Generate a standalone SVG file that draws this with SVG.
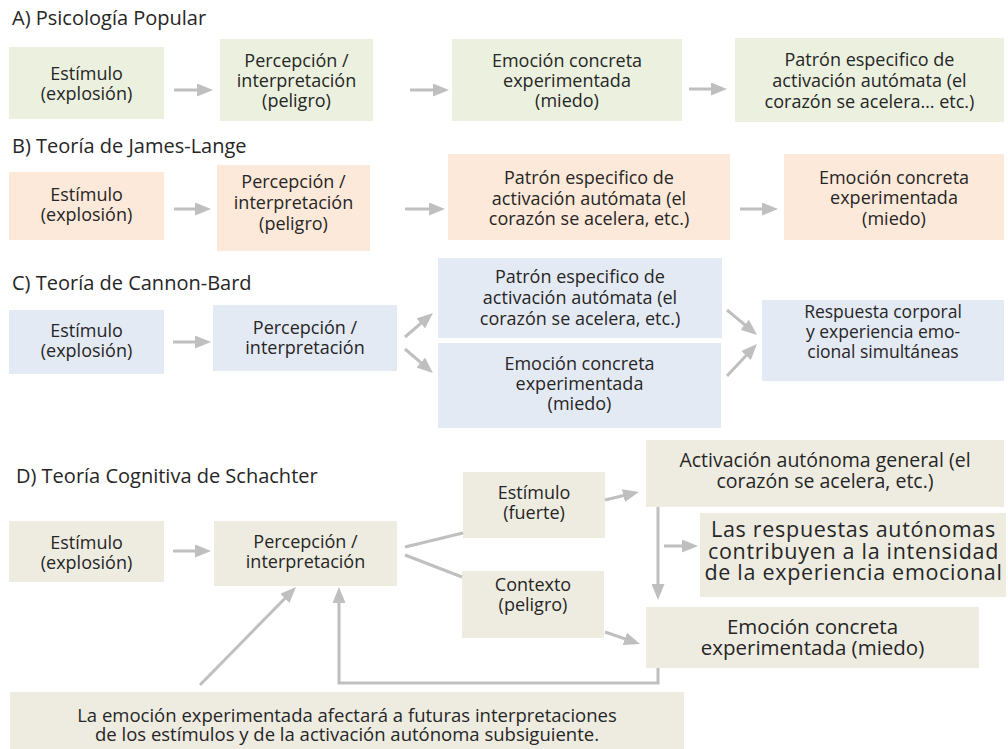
<svg xmlns="http://www.w3.org/2000/svg" width="1008" height="749" viewBox="0 0 1008 749">
  <style>
    text { font-family: "Open Sans", "Liberation Sans", sans-serif; font-weight: 400; fill: #262626; }
    .title { font-size: 20px; }
    .lbl { font-size: 18px; text-anchor: middle; }
    .sm { font-size: 17.5px; }
    .mid { font-size: 19.5px; }
    .big { font-size: 20.5px; text-anchor: middle; }
    .xl { font-size: 21.5px; letter-spacing: 0.7px; text-anchor: middle; }
    .note { font-size: 18.5px; text-anchor: middle; }
    .a { fill: #EBF1DE; }
    .b { fill: #FDE9D9; }
    .c { fill: #E4EAF4; }
    .d { fill: #EEECE1; }
    .conn { stroke: #BFBFBF; stroke-width: 3; fill: none; }
    .arr { marker-end: url(#ah); }
  </style>
  <defs>
    <marker id="ah" markerUnits="userSpaceOnUse" markerWidth="16" markerHeight="13" refX="8" refY="6.5" orient="auto">
      <path d="M0,0 L16,6.5 L0,13 z" fill="#BFBFBF"/>
    </marker>
  </defs>

  <rect width="1008" height="749" fill="#FFFFFF"/>

  <!-- Section titles -->
  <text class="title" x="12" y="25">A) Psicología Popular</text>
  <text class="title" x="12" y="153">B) Teoría de James-Lange</text>
  <text class="title" x="12" y="290">C) Teoría de Cannon-Bard</text>
  <text class="title" x="16" y="483">D) Teoría Cognitiva de Schachter</text>

  <!-- A) Folk psychology chain -->
  <g id="a1"><rect class="a" x="9" y="47" width="155" height="72"/>
    <text class="lbl" x="86.5" y="80">Estímulo</text>
    <text class="lbl" x="86.5" y="100">(explosión)</text></g>
  <g id="a2"><rect class="a" x="220" y="39" width="153" height="82"/>
    <text class="lbl" x="296.5" y="67">Percepción /</text>
    <text class="lbl" x="296.5" y="87">interpretación</text>
    <text class="lbl" x="296.5" y="107">(peligro)</text></g>
  <g id="a3"><rect class="a" x="452" y="39" width="230" height="82"/>
    <text class="lbl" x="567" y="67">Emoción concreta</text>
    <text class="lbl" x="567" y="87">experimentada</text>
    <text class="lbl" x="567" y="107">(miedo)</text></g>
  <g id="a4"><rect class="a" x="735" y="38" width="269" height="84"/>
    <text class="lbl" x="869.5" y="66">Patrón especifico de</text>
    <text class="lbl" x="869.5" y="87">activación autómata (el</text>
    <text class="lbl" x="869.5" y="108">corazón se acelera… etc.)</text></g>

  <!-- B) James-Lange chain -->
  <g id="b1"><rect class="b" x="9" y="172" width="155" height="68"/>
    <text class="lbl" x="86.5" y="201">Estímulo</text>
    <text class="lbl" x="86.5" y="221">(explosión)</text></g>
  <g id="b2"><rect class="b" x="217" y="165" width="153" height="86"/>
    <text class="lbl" x="293.5" y="188">Percepción /</text>
    <text class="lbl" x="293.5" y="209">interpretación</text>
    <text class="lbl" x="293.5" y="230">(peligro)</text></g>
  <g id="b3"><rect class="b" x="448" y="154" width="282" height="86"/>
    <text class="lbl" x="589" y="184">Patrón especifico de</text>
    <text class="lbl" x="589" y="205">activación autómata (el</text>
    <text class="lbl" x="589" y="225">corazón se acelera, etc.)</text></g>
  <g id="b4"><rect class="b" x="784" y="154" width="220" height="86"/>
    <text class="lbl" x="894" y="184">Emoción concreta</text>
    <text class="lbl" x="894" y="204">experimentada</text>
    <text class="lbl" x="894" y="225">(miedo)</text></g>

  <!-- C) Cannon-Bard branches -->
  <g id="c1"><rect class="c" x="9" y="310" width="155" height="64"/>
    <text class="lbl" x="86.5" y="337">Estímulo</text>
    <text class="lbl" x="86.5" y="357">(explosión)</text></g>
  <g id="c2"><rect class="c" x="213" y="305" width="184" height="66"/>
    <text class="lbl" x="305" y="334">Percepción /</text>
    <text class="lbl" x="305" y="354">interpretación</text></g>
  <g id="c3"><rect class="c" x="438" y="258" width="284" height="80"/>
    <text class="lbl" x="580" y="283">Patrón especifico de</text>
    <text class="lbl" x="580" y="304">activación autómata (el</text>
    <text class="lbl" x="580" y="325">corazón se acelera, etc.)</text></g>
  <g id="c4"><rect class="c" x="438" y="343" width="283" height="85"/>
    <text class="lbl" x="579.5" y="370">Emoción concreta</text>
    <text class="lbl" x="579.5" y="390">experimentada</text>
    <text class="lbl" x="579.5" y="410">(miedo)</text></g>
  <g id="c5"><rect class="c" x="762" y="300" width="242" height="81"/>
    <text class="lbl sm" x="883" y="318">Respuesta corporal</text>
    <text class="lbl sm" x="883" y="338">y experiencia emo-</text>
    <text class="lbl sm" x="883" y="358">cional simultáneas</text></g>

  <!-- D) Schachter two-factor model -->
  <g id="d1"><rect class="d" x="9" y="521" width="155" height="61"/>
    <text class="lbl" x="86.5" y="549">Estímulo</text>
    <text class="lbl" x="86.5" y="569">(explosión)</text></g>
  <g id="d2"><rect class="d" x="214" y="521" width="183" height="65"/>
    <text class="lbl" x="305.5" y="548">Percepción /</text>
    <text class="lbl" x="305.5" y="568">interpretación</text></g>
  <g id="d3"><rect class="d" x="463" y="472" width="142" height="66"/>
    <text class="lbl" x="534" y="499">Estímulo</text>
    <text class="lbl" x="534" y="519">(fuerte)</text></g>
  <g id="d4"><rect class="d" x="462" y="571" width="142" height="67"/>
    <text class="lbl" x="533" y="591">Contexto</text>
    <text class="lbl" x="533" y="611">(peligro)</text></g>
  <g id="d5"><rect class="d" x="646" y="440" width="358" height="67"/>
    <text class="lbl mid" x="825" y="467">Activación autónoma general (el</text>
    <text class="lbl mid" x="825" y="488">corazón se acelera, etc.)</text></g>
  <g id="d6"><rect class="d" x="700" y="513" width="306" height="84"/>
    <text class="xl" x="853.5" y="537">Las respuestas autónomas</text>
    <text class="xl" x="853.5" y="558.5">contribuyen a la intensidad</text>
    <text class="xl" x="853.5" y="580">de la experiencia emocional</text></g>
  <g id="d7"><rect class="d" x="646" y="607" width="333" height="61"/>
    <text class="big" x="812.5" y="634">Emoción concreta</text>
    <text class="big" x="812.5" y="655">experimentada (miedo)</text></g>
  <g id="d8"><rect class="d" x="10" y="692" width="674" height="57"/>
    <text class="note" x="347" y="722">La emoción experimentada afectará a futuras interpretaciones</text>
    <text class="note" x="347" y="741">de los estímulos y de la activación autónoma subsiguiente.</text></g>

  <!-- Connectors -->
  <g id="connectors" class="conn">
    <!-- A -->
    <line class="arr" x1="174" y1="90" x2="205" y2="90"/>
    <line class="arr" x1="410" y1="90" x2="441" y2="90"/>
    <line class="arr" x1="689" y1="89" x2="719" y2="89"/>
    <!-- B -->
    <line class="arr" x1="174" y1="209" x2="203" y2="209"/>
    <line class="arr" x1="405" y1="209" x2="437" y2="209"/>
    <line class="arr" x1="740" y1="209" x2="770" y2="209"/>
    <!-- C -->
    <line class="arr" x1="173" y1="342" x2="203" y2="342"/>
    <line class="arr" x1="405" y1="337" x2="426.9" y2="318.2"/>
    <line class="arr" x1="405" y1="349" x2="426.9" y2="367.8"/>
    <line class="arr" x1="727" y1="310" x2="750.9" y2="329.9"/>
    <line class="arr" x1="727" y1="376" x2="751.5" y2="349.8"/>
    <!-- D -->
    <line class="arr" x1="173" y1="551" x2="203" y2="551"/>
    <line x1="405" y1="547" x2="463" y2="533"/>
    <line x1="405" y1="555" x2="462" y2="577"/>
    <line class="arr" x1="605" y1="500" x2="631.2" y2="493.8"/>
    <line class="arr" x1="605" y1="632" x2="632.4" y2="641.4"/>
    <line class="arr" x1="658" y1="507" x2="658" y2="592"/>
    <line class="arr" x1="664" y1="546" x2="690" y2="546"/>
    <path class="arr" d="M658,668 V683 H339 V595"/>
    <line class="arr" x1="200" y1="685" x2="290.4" y2="592.7"/>
  </g>
</svg>
